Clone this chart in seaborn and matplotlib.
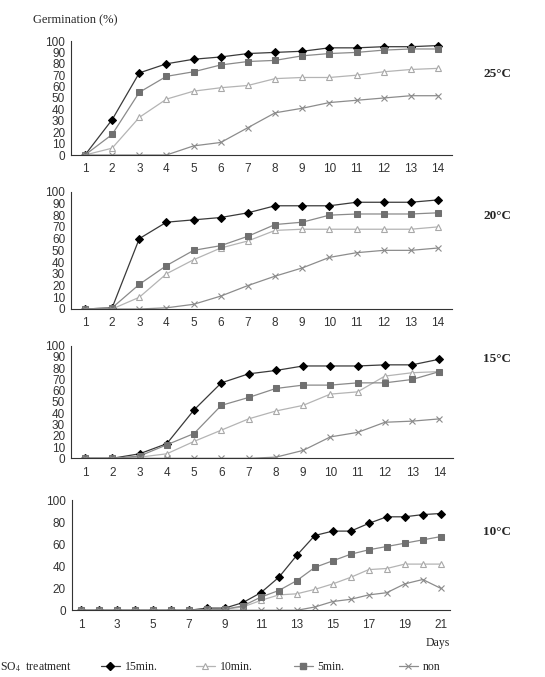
import matplotlib
matplotlib.use("Agg")
import matplotlib.pyplot as plt
import seaborn as sns
import numpy as np
import pandas as pd
from matplotlib.lines import Line2D

sns.set_style("white")
plt.rcParams['font.family'] = ['Liberation Sans', 'DejaVu Sans']
plt.rcParams['mathtext.fontset'] = 'stix'

days14 = list(range(1, 15))
days21 = list(range(1, 22))

series_names = ["15min.", "10min.", "5min.", "non"]

# 25°C
t25_15 = [0, 31, 72, 80, 84, 86, 89, 90, 91, 94, 94, 95, 95, 96]
t25_10 = [0, 6, 33, 49, 56, 59, 61, 67, 68, 68, 70, 73, 75, 76]
t25_5 = [0, 18, 55, 69, 73, 79, 82, 83, 87, 89, 90, 92, 93, 93]
t25_non = [0, 0, 0, 0, 8, 11, 24, 37, 41, 46, 48, 50, 52, 52]

# 20°C
t20_15 = [0, 1, 60, 74, 76, 78, 82, 88, 88, 88, 91, 91, 91, 93]
t20_10 = [0, 0, 10, 30, 42, 52, 58, 67, 68, 68, 68, 68, 68, 70]
t20_5 = [0, 1, 21, 37, 50, 54, 62, 72, 74, 80, 81, 81, 81, 82]
t20_non = [0, 0, 0, 1, 4, 11, 20, 28, 35, 44, 48, 50, 50, 52]

# 15°C
t15_15 = [0, 0, 4, 13, 43, 67, 75, 78, 82, 82, 82, 83, 83, 88]
t15_10 = [0, 0, 1, 4, 15, 25, 35, 42, 47, 57, 59, 73, 76, 77]
t15_5 = [0, 0, 2, 12, 22, 47, 54, 62, 65, 65, 67, 67, 70, 77]
t15_non = [0, 0, 0, 0, 0, 0, 0, 1, 7, 19, 23, 32, 33, 35]

# 10°C
t10_15 = [0, 0, 0, 0, 0, 0, 0, 2, 2, 7, 16, 30, 50, 68, 72, 72, 79, 85, 85, 87, 88]
t10_10 = [0, 0, 0, 0, 0, 0, 0, 0, 1, 3, 9, 14, 15, 19, 24, 30, 37, 38, 42, 42, 42]
t10_5 = [0, 0, 0, 0, 0, 0, 0, 1, 1, 4, 12, 18, 27, 39, 45, 51, 55, 58, 61, 64, 67]
t10_non = [0, 0, 0, 0, 0, 0, 0, 0, 0, 0, 0, 0, 0, 3, 8, 10, 14, 16, 24, 28, 20]

temps = ["25°C", "20°C", "15°C", "10°C"]
panel_data = [
    (days14, [t25_15, t25_10, t25_5, t25_non]),
    (days14, [t20_15, t20_10, t20_5, t20_non]),
    (days14, [t15_15, t15_10, t15_5, t15_non]),
    (days21, [t10_15, t10_10, t10_5, t10_non]),
]

styles = [
    dict(color="#3a3a3a", marker="D", markersize=4.2, markerfacecolor="black", markeredgecolor="black"),
    dict(color="#b4b4b4", marker="^", markersize=4.5, markerfacecolor="white", markeredgecolor="#a8a8a8", markeredgewidth=0.8),
    dict(color="#8a8a8a", marker="s", markersize=4.0, markerfacecolor="#707070", markeredgecolor="#707070"),
    dict(color="#8c8c8c", marker="x", markersize=4.0, markeredgecolor="#8c8c8c", markeredgewidth=0.8),
]

W, H = 545, 677
fig = plt.figure(figsize=(W / 100, H / 100), dpi=100)

# axes rectangles in pixels: (left, top(100), right, bottom(0))
rects = [
    (71.4, 41.0, 451.6, 155.0),
    (71.4, 191.7, 451.6, 309.0),
    (71.4, 345.7, 453.0, 458.3),
    (72.0, 500.3, 449.7, 610.3),
]
label_y = [74, 216, 359, 532]

for i, ((days, vals), rect) in enumerate(zip(panel_data, rects)):
    l, t, r, b = rect
    ax = fig.add_axes([l / W, 1 - b / H, (r - l) / W, (b - t) / H])
    for name, v, st in zip(series_names, vals, styles):
        df = pd.DataFrame({"day": days, "val": v})
        sns.lineplot(data=df, x="day", y="val", ax=ax, linewidth=0.9, label=name, legend=False, **st)
    ax.set_xlim(0.5, len(days) + 0.5)
    ax.set_ylim(0, 100)
    if len(days) == 21:
        ax.set_xticks(list(range(1, 22, 2)))
        ax.set_yticks(list(range(0, 101, 20)))
    else:
        ax.set_xticks(days)
        ax.set_yticks(list(range(0, 101, 10)))
    ax.set_xlabel("")
    ax.set_ylabel("")
    for s in ["top", "right"]:
        ax.spines[s].set_visible(False)
    for s in ["left", "bottom"]:
        ax.spines[s].set_color("#333333")
        ax.spines[s].set_linewidth(0.8)
    ax.tick_params(axis="y", direction="inout", length=3, width=0.6, color="#333333",
                   labelsize=8.5, labelcolor="#333333", pad=3)
    ax.tick_params(axis="x", length=0, labelsize=8.5, labelcolor="#333333", pad=6)
    ax.grid(False)
    ax.patch.set_alpha(0)
    fig.text(497 / W, 1 - label_y[i] / H, temps[i], family="Liberation Serif",
             fontweight="bold", fontsize=9.5, ha="center", va="center")

fig.text(33 / W, 1 - 20 / H, "Germination (%)", family="Liberation Serif", fontsize=9,
         ha="left", va="center")
fig.text(438 / W, 1 - 643 / H, "Days", family="Liberation Serif", fontsize=8.5,
         ha="center", va="center")
fig.text(0 / W, 1 - 667 / H, "SO$_4$  treatment", family="Liberation Serif", fontsize=8.5,
         ha="left", va="center")

leg_x = [101, 196, 294, 399]
for name, st, lx in zip(series_names, styles, leg_x):
    h = Line2D([], [], linewidth=0.9, **st)
    leg = fig.legend([h], [name], loc="center left", bbox_to_anchor=(lx / W, 1 - 667 / H),
                     frameon=False, handlelength=1.6, handletextpad=0.4, borderpad=0,
                     borderaxespad=0, prop={"family": "Liberation Serif", "size": 8.5})

fig.savefig("out.png", dpi=100)
